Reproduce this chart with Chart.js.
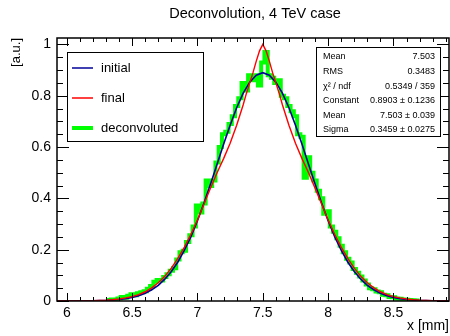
<!DOCTYPE html>
<html>
<head>
<meta charset="utf-8">
<script src="https://cdn.jsdelivr.net/npm/chart.js@4.4.1/dist/chart.umd.min.js"></script>
<style>
  html, body { margin: 0; padding: 0; background: #fff; }
</style>
</head>
<body>
<canvas id="chart" width="450" height="336"></canvas>
<script>
// histogram bin centres for initial (0.05 wide)
var curveX = [5.925, 6.2, 6.25, 6.3, 6.35, 6.4, 6.45, 6.5, 6.55, 6.6, 6.65, 6.7, 6.75, 6.8, 6.85, 6.9, 6.95,
  7.0, 7.05, 7.1, 7.15, 7.2, 7.25, 7.3, 7.35, 7.4, 7.45, 7.5, 7.55, 7.6, 7.65, 7.7, 7.75, 7.8, 7.85, 7.9, 7.95,
  8.0, 8.05, 8.1, 8.15, 8.2, 8.25, 8.3, 8.35, 8.4, 8.45, 8.5, 8.55, 8.6, 8.65, 8.7, 8.75, 8.8, 8.925];

var initial = [0, 0.001, 0.0015, 0.002, 0.004, 0.006, 0.009, 0.014, 0.021, 0.030, 0.044, 0.061, 0.085, 0.115, 0.152, 0.198, 0.251,
  0.313, 0.382, 0.456, 0.533, 0.611, 0.685, 0.753, 0.810, 0.853, 0.880, 0.890, 0.880, 0.853, 0.810, 0.753, 0.685, 0.611, 0.533, 0.456, 0.382,
  0.313, 0.251, 0.198, 0.152, 0.115, 0.085, 0.061, 0.044, 0.030, 0.021, 0.014, 0.009, 0.006, 0.004, 0.002, 0.0015, 0.001, 0];

// final is sampled finer around the peak
var finalX = [5.925, 6.2, 6.25, 6.3, 6.35, 6.4, 6.45, 6.5, 6.55, 6.6, 6.65, 6.7, 6.75, 6.8, 6.85, 6.9, 6.95,
  7.0, 7.05, 7.1, 7.15, 7.2, 7.25, 7.3, 7.35, 7.375, 7.4, 7.425, 7.45, 7.475, 7.5, 7.525, 7.55, 7.575, 7.6, 7.625, 7.65,
  7.7, 7.75, 7.8, 7.85, 7.9, 7.95,
  8.0, 8.05, 8.1, 8.15, 8.2, 8.25, 8.3, 8.35, 8.4, 8.45, 8.5, 8.55, 8.6, 8.65, 8.7, 8.75, 8.8, 8.925];

var finalH = [0, 0.001, 0.002, 0.003, 0.005, 0.008, 0.012, 0.017, 0.025, 0.036, 0.051, 0.071, 0.096, 0.128, 0.166, 0.210, 0.260,
  0.316, 0.378, 0.440, 0.500, 0.555, 0.615, 0.685, 0.765, 0.810, 0.850, 0.890, 0.935, 0.975, 1.000, 0.975, 0.935, 0.890, 0.850, 0.810, 0.765,
  0.685, 0.615, 0.555, 0.500, 0.440, 0.378,
  0.316, 0.260, 0.210, 0.166, 0.128, 0.096, 0.071, 0.051, 0.036, 0.025, 0.017, 0.012, 0.008, 0.005, 0.003, 0.002, 0.001, 0];

// deconvoluted histogram, 0.025 wide bins starting at 6.3
var deconvLo = 6.3, deconvStep = 0.025;
var deconvoluted = [0.004, 0.003, 0.006, 0.005, 0.010, 0.016, 0.013, 0.020, 0.026, 0.022, 0.030, 0.034, 0.038, 0.048, 0.058, 0.075,
  0.082, 0.080, 0.094, 0.104, 0.118, 0.128, 0.162, 0.190, 0.196, 0.230, 0.256, 0.290,
  0.372, 0.345, 0.380, 0.470, 0.448, 0.470, 0.540, 0.600, 0.650, 0.660, 0.690, 0.720, 0.760, 0.790, 0.850, 0.820, 0.880, 0.860, 0.880, 0.840,
  0.930, 0.970, 0.880, 0.870, 0.850, 0.860, 0.800, 0.790, 0.760, 0.740, 0.720, 0.650, 0.640, 0.480, 0.560, 0.500, 0.470, 0.430, 0.400, 0.340,
  0.350, 0.290, 0.270, 0.245, 0.215, 0.190, 0.165, 0.150, 0.125, 0.110, 0.095, 0.080, 0.064, 0.050, 0.046, 0.037, 0.034, 0.024, 0.022, 0.016,
  0.015, 0.010, 0.009, 0.006, 0.005, 0.004, 0.003, 0.002, 0.002];

var xTickVals = [6, 6.5, 7, 7.5, 8, 8.5];
var yTickVals = [0, 0.2, 0.4, 0.6, 0.8, 1];

var statNames = ["Mean", "RMS", "\u03c7\u00b2 / ndf", "Constant", "Mean", "Sigma"];
var statValues = ["7.503", "0.3483", "0.5349 / 359", "0.8903 \u00b1 0.1236", "7.503 \u00b1 0.039", "0.3459 \u00b1 0.0275"];

var legendLabels = ["initial", "final", "deconvoluted"];
var colInitial = "#000099", colFinal = "#ff0000", colDeconv = "#00ff00";
var FONT = "'Liberation Sans', Arial, sans-serif";

function pts(xs, ys) {
  return ys.map(function (y, i) { return { x: xs[i], y: y }; });
}
function deconvPts() {
  return deconvoluted.map(function (y, i) { return { x: deconvLo + i * deconvStep, y: y }; });
}
function fmt(v) {
  return String(Math.round(v * 10) / 10);
}

var rootFrame = {
  id: "rootFrame",
  afterDraw: function (chart) {
    var ctx = chart.ctx, a = chart.chartArea;
    var xs = chart.scales.x, ys = chart.scales.y;
    ctx.save();
    ctx.strokeStyle = "#000";
    ctx.fillStyle = "#000";

    // ticks inside the frame on all four sides
    ctx.lineWidth = 1;
    ctx.beginPath();
    for (var k = 60; k <= 89; k++) {
      var px = Math.round(xs.getPixelForValue(k / 10)) + 0.5;
      var len = (k % 5 === 0) ? 8 : 4;
      ctx.moveTo(px, a.bottom); ctx.lineTo(px, a.bottom - len);
      ctx.moveTo(px, a.top); ctx.lineTo(px, a.top + len);
    }
    for (var j = 0; j <= 20; j++) {
      var py = Math.round(ys.getPixelForValue(j / 20)) + 0.5;
      var ylen = (j % 4 === 0) ? 12 : 6;
      ctx.moveTo(a.left, py); ctx.lineTo(a.left + ylen, py);
      ctx.moveTo(a.right, py); ctx.lineTo(a.right - ylen, py);
    }
    ctx.stroke();

    ctx.lineWidth = 1.5;
    ctx.strokeRect(a.left, a.top, a.right - a.left, a.bottom - a.top);

    // title
    ctx.font = "14.5px " + FONT;
    ctx.textAlign = "center";
    ctx.textBaseline = "middle";
    ctx.fillText("Deconvolution, 4 TeV case", 255, 14);

    // axis titles
    ctx.font = "14px " + FONT;
    ctx.textAlign = "right";
    ctx.fillText("x [mm]", 449, 326);
    ctx.font = "13px " + FONT;
    ctx.save();
    ctx.translate(16, 38);
    ctx.rotate(-Math.PI / 2);
    ctx.fillText("[a.u.]", 0, 0);
    ctx.restore();

    // legend
    ctx.fillStyle = "#fff";
    ctx.fillRect(67, 52, 136, 89);
    ctx.lineWidth = 1;
    ctx.strokeStyle = "#000";
    ctx.strokeRect(67.5, 52.5, 136, 89);
    var cols = [colInitial, colFinal, colDeconv], widths = [1.5, 1.5, 4];
    ctx.font = "13px " + FONT;
    ctx.textAlign = "left";
    for (var i = 0; i < legendLabels.length; i++) {
      var ly = 68 + i * 30;
      ctx.strokeStyle = cols[i];
      ctx.lineWidth = widths[i];
      ctx.beginPath(); ctx.moveTo(72, ly); ctx.lineTo(93, ly); ctx.stroke();
      ctx.fillStyle = "#000";
      ctx.fillText(legendLabels[i], 101, ly);
    }

    // stats box
    ctx.fillStyle = "#fff";
    ctx.fillRect(316, 47, 124, 89);
    ctx.strokeStyle = "#000";
    ctx.lineWidth = 1;
    ctx.strokeRect(316.5, 47.5, 124, 89);
    ctx.fillStyle = "#000";
    ctx.font = "9px " + FONT;
    for (var s = 0; s < statNames.length; s++) {
      var sy = 57 + s * 14.6;
      ctx.textAlign = "left";
      ctx.fillText(statNames[s], 323, sy);
      ctx.textAlign = "right";
      ctx.fillText(statValues[s], 435, sy);
    }
    ctx.restore();
  }
};

var ctx = document.getElementById("chart").getContext("2d");
var chart = new Chart(ctx, {
  type: "line",
  data: {
    datasets: [
      {
        label: "deconvoluted",
        data: deconvPts(),
        borderColor: colDeconv,
        borderWidth: 4,
        stepped: "middle",
        pointRadius: 0,
        order: 3
      },
      {
        label: "initial",
        data: pts(curveX, initial),
        borderColor: colInitial,
        borderWidth: 1.6,
        pointRadius: 0,
        order: 2
      },
      {
        label: "final",
        data: pts(finalX, finalH),
        borderColor: colFinal,
        borderWidth: 1.4,
        pointRadius: 0,
        order: 1
      }
    ]
  },
  options: {
    responsive: false,
    animation: false,
    devicePixelRatio: 1,
    layout: { padding: { top: 38, right: 1, left: 0, bottom: 0 } },
    plugins: { legend: { display: false }, tooltip: { enabled: false }, title: { display: false } },
    scales: {
      x: {
        type: "linear",
        min: 5.925,
        max: 8.925,
        afterBuildTicks: function (s) { s.ticks = xTickVals.map(function (v) { return { value: v }; }); },
        afterFit: function (s) { s.height = 35; },
        grid: { display: false, drawTicks: false },
        border: { display: false },
        ticks: { color: "#000", font: { family: FONT, size: 14 }, padding: 4, maxRotation: 0, callback: fmt }
      },
      y: {
        min: 0,
        max: 1.025,
        afterBuildTicks: function (s) { s.ticks = yTickVals.map(function (v) { return { value: v }; }); },
        afterFit: function (s) { s.width = 57; },
        grid: { display: false, drawTicks: false },
        border: { display: false },
        ticks: { color: "#000", font: { family: FONT, size: 14 }, padding: 6, callback: fmt }
      }
    }
  },
  plugins: [rootFrame]
});
</script>
</body>
</html>
